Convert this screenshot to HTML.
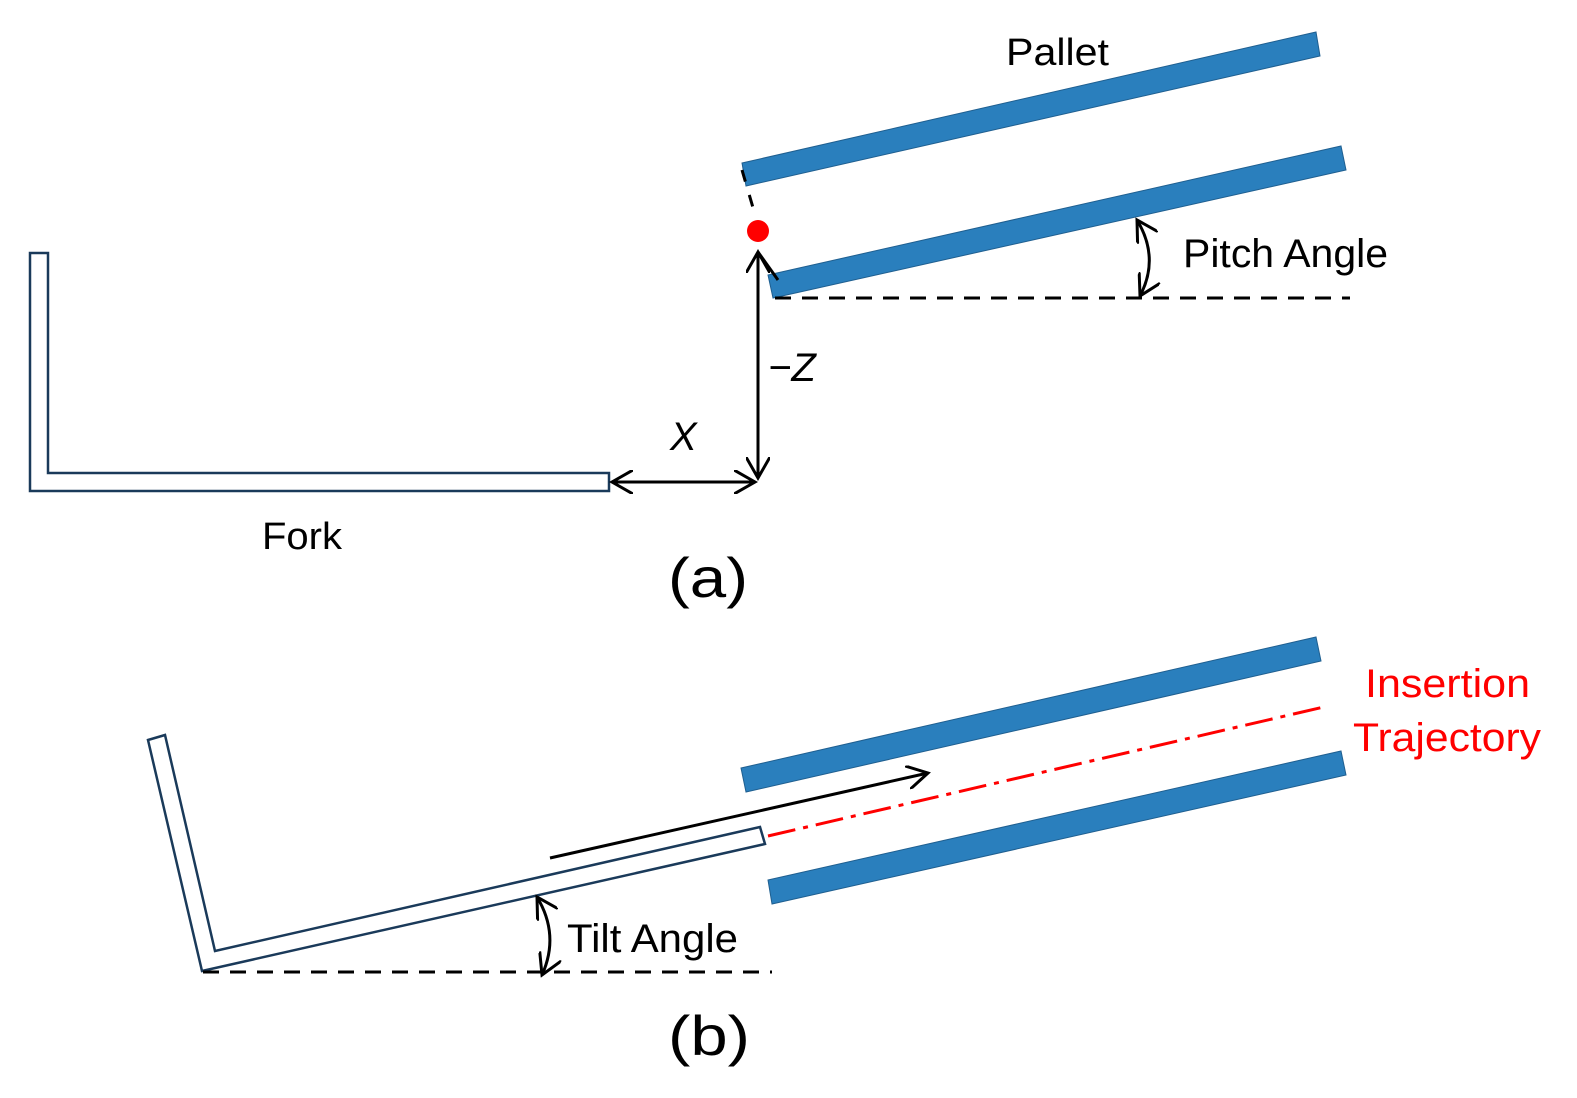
<!DOCTYPE html>
<html><head><style>body{margin:0;background:#fff}svg{display:block}text{font-family:"Liberation Sans",sans-serif}</style></head><body>
<svg width="1577" height="1098" viewBox="0 0 1577 1098" xmlns="http://www.w3.org/2000/svg">
<defs>
<marker id="b" markerWidth="24" markerHeight="24" refX="21" refY="12" orient="auto-start-reverse" markerUnits="userSpaceOnUse"><path d="M0,0 L21,12 L0,24" fill="none" stroke="#000" stroke-width="3"/></marker></defs>
<g fill="#2a7fbd" stroke="#1f5f90" stroke-width="1">
<polygon points="742,163 1316,32 1320,56 746,186"/>
<polygon points="768,275 1341,146 1346,170 773,298"/>
<polygon points="741,768 1316,637 1321,661 746,792"/>
<polygon points="768,880 1341,751 1346,775 772,904"/>
</g>
<g fill="#fff" stroke="#1a3a5a" stroke-width="2.5">
<polygon points="30,253 48,253 48,473 609,473 609,491 30,491"/>
<polygon points="148,740 165,735 215,951 760,827 765,844 202,971"/>
</g>
<g stroke="#000" stroke-width="3" fill="none">
<line x1="775" y1="298" x2="1350" y2="298" stroke-dasharray="16,11"/>
<line x1="203" y1="972" x2="772" y2="972" stroke-dasharray="16,11"/>
<line x1="742" y1="170" x2="756" y2="218" stroke-dasharray="12,14"/>
<line x1="758" y1="252" x2="758" y2="478" marker-start="url(#b)" marker-end="url(#b)"/>
<line x1="612" y1="482" x2="755" y2="482" marker-start="url(#b)" marker-end="url(#b)"/>
<path d="M1137,220 Q1160,258 1140,296" marker-start="url(#b)" marker-end="url(#b)"/>
<path d="M537,897 Q560,935 542,975" marker-start="url(#b)" marker-end="url(#b)"/>
<line x1="550" y1="858" x2="928" y2="773" marker-end="url(#b)"/>
<line x1="758" y1="252" x2="778" y2="280"/>
</g>
<line x1="768" y1="836" x2="1328" y2="706" stroke="#f00" stroke-width="3" stroke-dasharray="28,8,5,8"/>
<circle cx="758" cy="231" r="11" fill="#f00"/>
<text x="1006" y="65" font-size="38" textLength="103" lengthAdjust="spacingAndGlyphs">Pallet</text>
<text x="1183" y="267" font-size="40" textLength="205" lengthAdjust="spacingAndGlyphs">Pitch Angle</text>
<text x="262" y="549" font-size="38" textLength="80" lengthAdjust="spacingAndGlyphs">Fork</text>
<text x="668" y="597" font-size="56" textLength="80" lengthAdjust="spacingAndGlyphs">(a)</text>
<text x="668" y="1055" font-size="56" textLength="82" lengthAdjust="spacingAndGlyphs">(b)</text>
<text x="567" y="952" font-size="40" textLength="171" lengthAdjust="spacingAndGlyphs">Tilt Angle</text>
<text x="1365" y="697" font-size="40" fill="#f00" textLength="165" lengthAdjust="spacingAndGlyphs">Insertion</text>
<text x="1353" y="751" font-size="40" fill="#f00" textLength="188" lengthAdjust="spacingAndGlyphs">Trajectory</text>
<text x="670" y="450" font-size="40" font-style="italic" font-family="Liberation Serif,serif">X</text>
<text x="768" y="381" font-size="40" font-style="italic" font-family="Liberation Serif,serif">−Z</text>
</svg>
</body></html>
